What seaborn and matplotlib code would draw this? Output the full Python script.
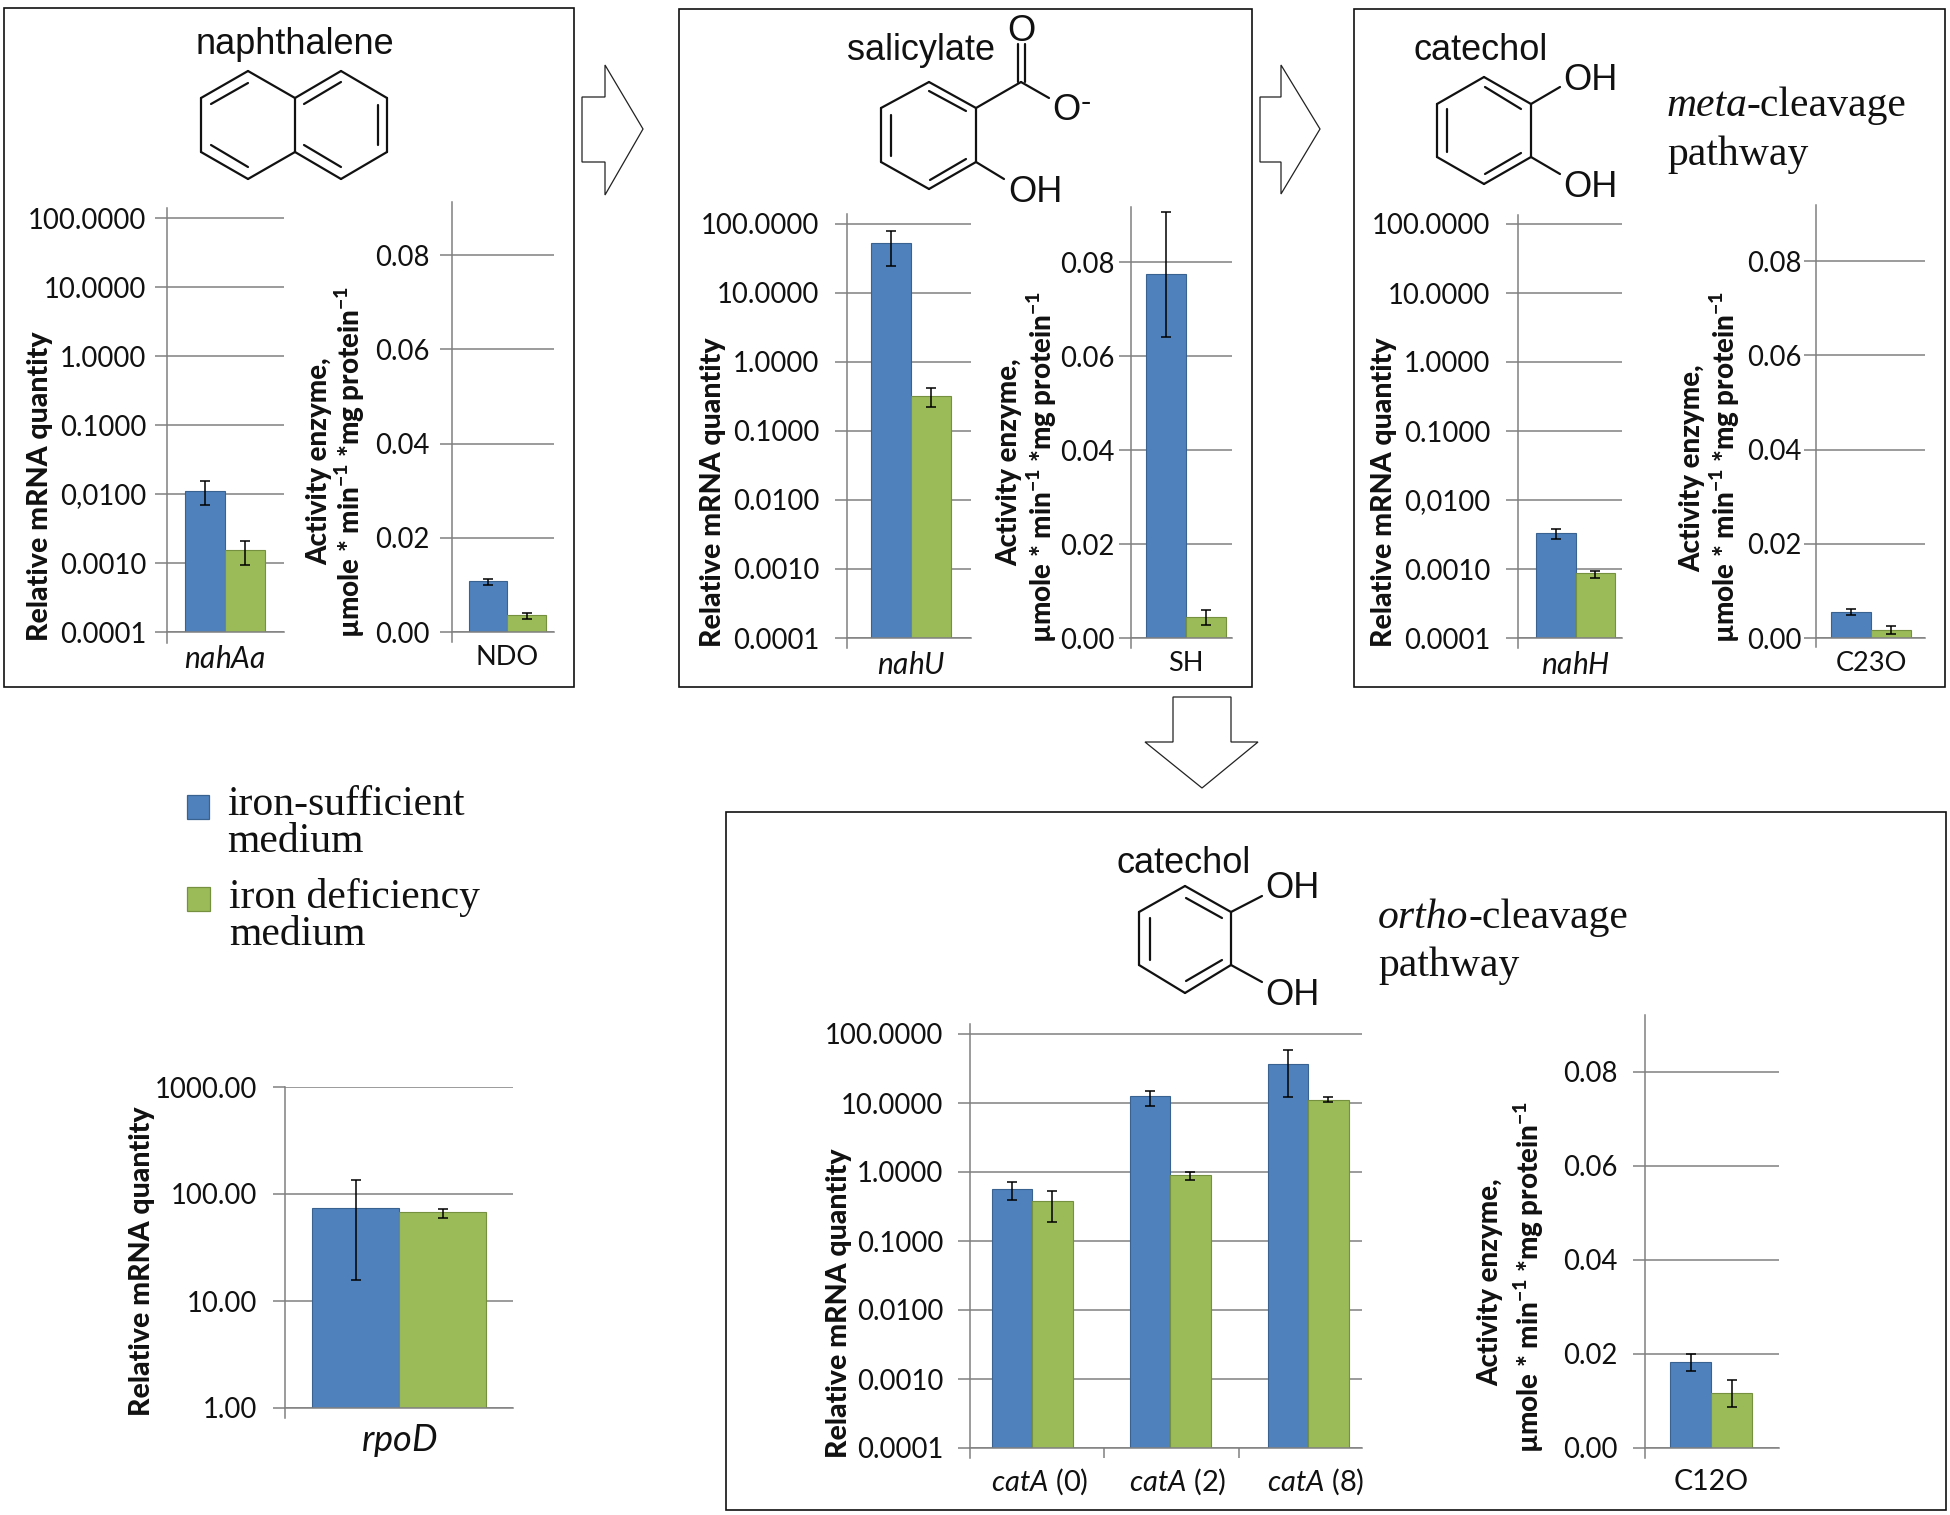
import numpy as np
import pandas as pd
import seaborn as sns
import matplotlib
matplotlib.use('Agg')
import matplotlib.pyplot as plt
from matplotlib.patches import Polygon, Rectangle
from matplotlib.transforms import ScaledTranslation

W, H = 1950, 1515

# conditions
mediums = ['iron-sufficient medium', 'iron deficiency medium']
bar_colors = ['#4F81BD', '#9BBB59']
edge_colors = ['#3A6291', '#75903F']
grid_color = '#808080'

# tick labels
mrna_ticks = [0.0001, 0.001, 0.01, 0.1, 1, 10, 100]
mrna_labels_dot = ['0.0001', '0.0010', '0.0100', '0.1000', '1.0000', '10.0000', '100.0000']
mrna_labels_comma = ['0.0001', '0.0010', '0,0100', '0.1000', '1.0000', '10.0000', '100.0000']
activity_ticks = [0, 0.02, 0.04, 0.06, 0.08]
activity_labels = ['0.00', '0.02', '0.04', '0.06', '0.08']
rpod_ticks = [1, 10, 100, 1000]
rpod_labels = ['1.00', '10.00', '100.00', '1000.00']

# naphthalene
nahAa_blue = [0.011]
nahAa_blue_low = [0.0069]
nahAa_blue_high = [0.0153]
nahAa_green = [0.00155]
nahAa_green_low = [0.00095]
nahAa_green_high = [0.00211]
NDO_blue = [0.0109]
NDO_blue_low = [0.00995]
NDO_blue_high = [0.0113]
NDO_green = [0.0036]
NDO_green_low = [0.00284]
NDO_green_high = [0.00398]

# salicylate
nahU_blue = [52]
nahU_blue_low = [24.4]
nahU_blue_high = [78.8]
nahU_green = [0.318]
nahU_green_low = [0.219]
nahU_green_high = [0.41]
SH_blue = [0.0774]
SH_blue_low = [0.064]
SH_blue_high = [0.0907]
SH_green = [0.00445]
SH_green_low = [0.0028]
SH_green_high = [0.00586]

# catechol, meta
nahH_blue = [0.00336]
nahH_blue_low = [0.00272]
nahH_blue_high = [0.00378]
nahH_green = [0.000866]
nahH_green_low = [0.000735]
nahH_green_high = [0.00093]
C23O_blue = [0.0055]
C23O_blue_low = [0.0049]
C23O_blue_high = [0.00615]
C23O_green = [0.0016]
C23O_green_low = [0.00076]
C23O_green_high = [0.00265]

# catechol, ortho
catA_genes = ['$\\mathit{catA}$ (0)', '$\\mathit{catA}$ (2)', '$\\mathit{catA}$ (8)']
catA_blue = [0.567, 12.6, 37.2]
catA_blue_low = [0.387, 9.18, 12.4]
catA_blue_high = [0.723, 14.9, 59.6]
catA_green = [0.376, 0.894, 11.2]
catA_green_low = [0.186, 0.768, 10.2]
catA_green_high = [0.533, 1.01, 12.2]
C12O_blue = [0.0184]
C12O_blue_low = [0.01646]
C12O_blue_high = [0.02]
C12O_green = [0.0118]
C12O_green_low = [0.0088]
C12O_green_high = [0.01443]

# reference gene
rpoD_blue = [74.7]
rpoD_blue_low = [15.7]
rpoD_blue_high = [134]
rpoD_green = [67.2]
rpoD_green_low = [59.9]
rpoD_green_high = [71.9]

sns.set_theme(style='white')
plt.rcParams['font.family'] = ['Lato', 'DejaVu Sans']
plt.rcParams['mathtext.fontset'] = 'custom'
plt.rcParams['mathtext.rm'] = 'Lato'
plt.rcParams['mathtext.it'] = 'Lato:italic'
plt.rcParams['mathtext.bf'] = 'Lato:black'

fig = plt.figure(figsize=(W / 100, H / 100), dpi=100, facecolor='white')

# whole-figure layer in pixels for boxes, arrows and structures
bg = fig.add_axes([0, 0, 1, 1])
bg.set_xlim(0, W)
bg.set_ylim(H, 0)
bg.axis('off')


def draw_chart(genes, blue, blue_low, blue_high, green, green_low, green_high,
               frame, grid_top, grid_base, axis_end, bars, ticks, labels,
               top_value, log=True, tick_fs=19.8, xlabel_fs=19.5, xpad=9.5, ygap=16):
    left, right, top = frame
    ax = fig.add_axes([left / W, 1 - grid_base / H, (right - left) / W, (grid_base - top) / H])
    ax.patch.set_alpha(0)
    base_value = ticks[0]
    if log:
        ax.set_yscale('log')
        per_px = (np.log10(top_value) - np.log10(base_value)) / (grid_base - grid_top)
        ymax = 10 ** (np.log10(top_value) + (grid_top - top) * per_px)
        ymin_spine = 10 ** (np.log10(base_value) - (axis_end - grid_base) * per_px)
    else:
        per_px = (top_value - base_value) / (grid_base - grid_top)
        ymax = top_value + (grid_top - top) * per_px
        ymin_spine = base_value - (axis_end - grid_base) * per_px

    df = pd.DataFrame({
        'gene': list(genes) * 2,
        'medium': [mediums[0]] * len(genes) + [mediums[1]] * len(genes),
        'value': list(blue) + list(green),
    })
    # bars = (first edge px, last edge px, px between group centres)
    first, last, step = bars
    group_px = (last - first - step * (len(genes) - 1))
    sns.barplot(data=df, x='gene', y='value', hue='medium', hue_order=mediums,
                palette=bar_colors, saturation=1, errorbar=None, gap=0,
                width=group_px / step, linewidth=0.8, legend=False, ax=ax)
    for container, edge in zip(ax.containers, edge_colors):
        for bar in container:
            bar.set_edgecolor(edge)

    for container, mean, low, high in zip(ax.containers, [blue, green],
                                          [blue_low, green_low], [blue_high, green_high]):
        xs = [b.get_x() + b.get_width() / 2 for b in container]
        mean, low, high = np.array(mean), np.array(low), np.array(high)
        ax.errorbar(xs, mean, yerr=[mean - low, high - mean], fmt='none',
                    ecolor='black', elinewidth=1.1, capsize=3.7, capthick=1.1, zorder=5)

    centre0 = first + group_px / 2
    ax.set_xlim((left - centre0) / step, (right - centre0) / step)
    ax.set_ylim(base_value, ymax)
    ax.set_yticks(ticks)
    ax.set_yticklabels(labels, fontsize=tick_fs, color='#111111')
    ax.minorticks_off()
    # ygap is the gap in px between a label and the left end of its tick
    ax.tick_params(axis='y', length=8.5, width=1.1, color=grid_color, pad=ygap * 0.72, left=True)
    ax.set_xticks(range(len(genes)))
    ax.set_xticklabels(genes, fontsize=xlabel_fs, color='#111111')
    ax.tick_params(axis='x', length=0, pad=xpad)
    ax.set_xlabel('')
    ax.set_ylabel('')
    ax.set_axisbelow(True)
    ax.grid(axis='y', color=grid_color, lw=1.1)
    ax.grid(axis='x', visible=False)
    for side in ['top', 'right']:
        ax.spines[side].set_visible(False)
    for side in ['left', 'bottom']:
        ax.spines[side].set_color(grid_color)
        ax.spines[side].set_linewidth(1.1)
    ax.spines['left'].set_bounds(ymin_spine, ymax)
    return ax


def mrna_label(x, y):
    bg.text(x + 3, y, 'Relative mRNA quantity', rotation=90, ha='center', va='center',
            fontsize=20.5, fontweight='black', color='#111111')


def activity_label(x1, y1, x2, y2):
    bg.text(x1, y1, 'Activity enzyme,', rotation=90, ha='center', va='center',
            fontsize=20, fontweight='black', color='#111111')
    bg.text(x2, y2, '\u00b5mole * min$^{\\mathbf{-1}}$ *mg protein$^{\\mathbf{-1}}$', rotation=90,
            ha='center', va='center', fontsize=20, fontweight='black', color='#111111')


def box(x0, y0, x1, y1):
    bg.add_patch(Rectangle((x0, y0), x1 - x0, y1 - y0, fill=False, ec='#111111', lw=1.2))


def arrow(points):
    bg.add_patch(Polygon(points, closed=True, fc='white', ec='#222222', lw=0.9))


def bonds(segments):
    for (x0, y0), (x1, y1) in segments:
        bg.plot([x0, x1], [y0, y1], color='#111111', lw=1.6, solid_capstyle='round')


def sans(x, y, s, fs=26):
    bg.text(x, y + 3.5, s, ha='center', va='center', fontsize=fs, family='Liberation Sans', color='#111111')


def serif(x, y, s, style='normal', fs=30, linespacing=1.2):
    bg.text(x, y + 3, s, ha='left', va='center', fontsize=fs, family='Liberation Serif',
            style=style, color='#111111', linespacing=linespacing)


def ring(pts, inner):
    segs = [(pts[i], pts[(i + 1) % len(pts)]) for i in range(len(pts))]
    bonds(segs + inner)


box(4, 8, 574, 687)
box(679, 9, 1252, 687)
box(1354, 9, 1945, 687)
box(726, 812, 1946, 1510)

arrow([(582, 97), (605, 97), (605, 65), (643, 129), (605, 195), (605, 162), (582, 162)])
arrow([(1260, 97), (1281, 97), (1281, 65), (1320, 129), (1281, 194), (1281, 162), (1260, 162)])
arrow([(1173, 697), (1231, 697), (1231, 742), (1258, 742), (1202, 788), (1145, 742), (1173, 742)])

# naphthalene
sans(295, 41, 'naphthalene')
ring([(201, 98), (248, 71), (295, 98), (295, 152), (248, 179), (201, 152)],
     [((211, 104), (248, 83)), ((211, 145), (248, 167))])
bonds([((295, 98), (341, 71)), ((341, 71), (387, 98)), ((387, 98), (387, 152)),
       ((387, 152), (341, 179)), ((341, 179), (295, 152)),
       ((304, 104), (341, 82)), ((304, 145), (341, 167)), ((378, 105), (378, 145))])

# salicylate
sans(921, 47, 'salicylate')
ring([(881, 108), (929, 82), (976, 108), (976, 162), (929, 189), (881, 162)],
     [((891, 115), (891, 156)), ((929, 91), (966, 111)), ((930, 180), (966, 159))])
bonds([((976, 108), (1021, 82)), ((1021, 82), (1049, 98)), ((1018, 82), (1018, 44)),
       ((1025, 82), (1025, 44)), ((976, 162), (1004, 179))])
sans(1021, 28, 'O')
sans(1066, 107, 'O')
sans(1086, 100, '-', fs=22)
sans(1035, 189, 'OH')

# catechol, meta
sans(1481, 47, 'catechol')
ring([(1437, 104), (1484, 77), (1531, 104), (1531, 157), (1484, 184), (1437, 157)],
     [((1447, 109), (1447, 152)), ((1485, 87), (1521, 109)), ((1485, 174), (1521, 153))])
bonds([((1531, 104), (1560, 87)), ((1531, 157), (1560, 174))])
sans(1590, 77, 'OH')
sans(1590, 184, 'OH')
serif(1667, 103, 'meta', style='italic')
serif(1746, 103, '-cleavage')
serif(1667, 152, 'pathway')

# catechol, ortho
sans(1184, 860, 'catechol')
ring([(1139, 912), (1185, 886), (1231, 912), (1231, 965), (1185, 993), (1139, 965)],
     [((1150, 918), (1150, 960)), ((1186, 898), (1222, 918)), ((1186, 981), (1222, 960))])
bonds([((1231, 912), (1262, 896)), ((1231, 965), (1262, 982))])
sans(1292, 885, 'OH')
sans(1292, 992, 'OH')
serif(1378, 915, 'ortho', style='italic')
serif(1468, 915, '-cleavage')
serif(1378, 963, 'pathway')

# legend
bg.add_patch(Rectangle((187, 795), 22, 24, fc=bar_colors[0], ec=edge_colors[0], lw=0.9))
bg.add_patch(Rectangle((187, 887), 23, 24, fc=bar_colors[1], ec=edge_colors[1], lw=0.9))
serif(227, 820, 'iron-sufficient\nmedium', linespacing=0.94)
serif(229, 913, 'iron deficiency\nmedium', linespacing=0.94)

draw_chart(['$\\mathit{nahAa}$'], nahAa_blue, nahAa_blue_low, nahAa_blue_high,
           nahAa_green, nahAa_green_low, nahAa_green_high,
           (167, 284, 208), 218, 632, 643, (185, 265, 100), mrna_ticks, mrna_labels_comma, 100,
           xlabel_fs=21.5, ygap=9)
draw_chart(['NDO'], NDO_blue, NDO_blue_low, NDO_blue_high,
           NDO_green, NDO_green_low, NDO_green_high,
           (452, 554, 202), 255, 632, 642, (469, 546, 100), activity_ticks, activity_labels, 0.08, log=False,
           ygap=11)
draw_chart(['$\\mathit{nahU}$'], nahU_blue, nahU_blue_low, nahU_blue_high,
           nahU_green, nahU_green_low, nahU_green_high,
           (847, 971, 214), 223.5, 638, 648, (871, 951, 100), mrna_ticks, mrna_labels_dot, 100,
           xlabel_fs=21.5)
draw_chart(['SH'], SH_blue, SH_blue_low, SH_blue_high,
           SH_green, SH_green_low, SH_green_high,
           (1131, 1232, 207), 262, 638, 648, (1146, 1226, 100), activity_ticks, activity_labels, 0.08, log=False,
           ygap=5)
draw_chart(['$\\mathit{nahH}$'], nahH_blue, nahH_blue_low, nahH_blue_high,
           nahH_green, nahH_green_low, nahH_green_high,
           (1518, 1622, 215), 224, 638, 648, (1536, 1615, 100), mrna_ticks, mrna_labels_comma, 100,
           xlabel_fs=21.5)
draw_chart(['C23O'], C23O_blue, C23O_blue_low, C23O_blue_high,
           C23O_green, C23O_green_low, C23O_green_high,
           (1816, 1925, 205), 261, 638, 647, (1831, 1911, 100), activity_ticks, activity_labels, 0.08, log=False,
           ygap=3)

ax_cat = draw_chart(catA_genes, catA_blue, catA_blue_low, catA_blue_high,
                    catA_green, catA_green_low, catA_green_high,
                    (970, 1362, 1024), 1034, 1448, 1458, (992, 1348.5, 138), mrna_ticks, mrna_labels_dot, 100,
                    xpad=13.5, xlabel_fs=21, ygap=15)
ax_cat.set_xticks([0.52, 1.5], minor=True)
ax_cat.tick_params(axis='x', which='minor', length=7.5, width=1.1, color=grid_color, bottom=True)
# the catA names sit a little right of their groups
for tick_label in ax_cat.get_xticklabels():
    tick_label.set_transform(tick_label.get_transform() + ScaledTranslation(0.07, 0, fig.dpi_scale_trans))
draw_chart(['C12O'], C12O_blue, C12O_blue_low, C12O_blue_high,
           C12O_green, C12O_green_low, C12O_green_high,
           (1645, 1779, 1015), 1072, 1448, 1458, (1670, 1752, 100), activity_ticks, activity_labels, 0.08, log=False,
           xpad=15, xlabel_fs=20.5)
draw_chart(['$\\mathit{rpoD}$'], rpoD_blue, rpoD_blue_low, rpoD_blue_high,
           rpoD_green, rpoD_green_low, rpoD_green_high,
           (285, 513, 1087), 1087, 1408, 1418, (312, 486, 100), rpod_ticks, rpod_labels, 1000,
           xlabel_fs=26, xpad=10)

mrna_label(37, 486)
activity_label(319, 461, 350, 462)
mrna_label(710, 492)
activity_label(1009, 462, 1042, 467)
mrna_label(1381, 492)
activity_label(1692, 468, 1725, 467)
mrna_label(836, 1303)
activity_label(1490, 1282, 1529, 1277)
mrna_label(139, 1261)

fig.savefig('out.png', dpi=100, facecolor='white')
